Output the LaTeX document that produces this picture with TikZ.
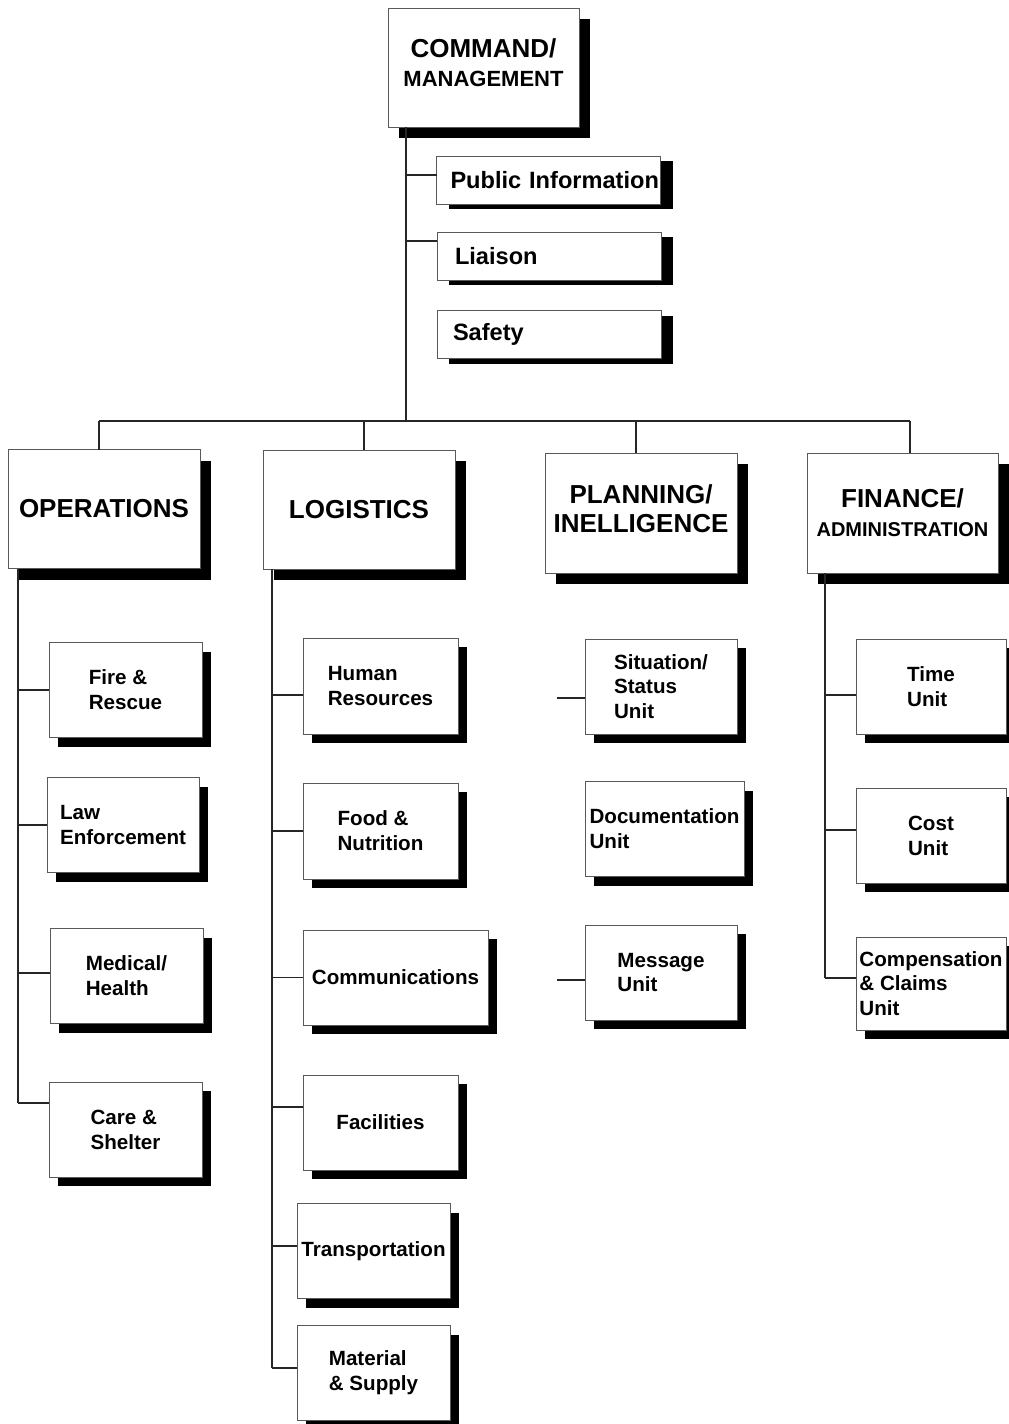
\documentclass[tikz,border=0pt]{standalone}
\usepackage{fontspec}
\setmainfont{Liberation Sans}
\usetikzlibrary{shadows}

\begin{document}
\begin{tikzpicture}[x=0.5pt,y=-0.5pt]
  \tikzstyle{box}=[draw=black!65,line width=0.5pt,fill=white,inner sep=0pt,outer sep=0pt]
  \tikzstyle{head}=[box,align=center,minimum width=96pt,minimum height=59.5pt,font=\bfseries\fontsize{13}{14.5}\selectfont,drop shadow={shadow xshift=5.5pt,shadow yshift=-5.5pt,fill=black,opacity=1}]
  \tikzstyle{staff}=[box,align=left,text width=98pt,inner xsep=7pt,minimum height=24pt,font=\bfseries\fontsize{11.8}{14}\selectfont,drop shadow={shadow xshift=6pt,shadow yshift=-2.5pt,fill=black,opacity=1}]
  \tikzstyle{unit}=[box,align=left,minimum width=76.5pt,minimum height=47.5pt,font=\bfseries\fontsize{10.3}{12.4}\selectfont,drop shadow={shadow xshift=4.5pt,shadow yshift=-4.5pt,fill=black,opacity=1}]
  \tikzstyle{link}=[draw=black!85,line width=0.7pt]
  \useasboundingbox (0,0) rectangle (1008,1424);

  \node[head,minimum width=95.5pt,text depth=5pt] (cmd) at (483.5,67.5) {COMMAND/\\{\fontsize{11}{13}\selectfont MANAGEMENT}};
  \node[staff] (pubinfo) at (548.5,180) {\mbox{Public Information}};
  \node[staff] (liaison) at (549,256) {\hspace{2pt}Liaison};
  \node[staff] (safety) at (549,334.5) {\hspace{1pt}Safety};

  \node[head] (ops) at (104,509) {OPERATIONS};
  \node[head] (log) at (359,509.5) {LOGISTICS};
  \node[head,minimum height=60pt,text depth=4pt] (plan) at (641,513) {PLANNING/\\INELLIGENCE};
  \node[head,minimum height=60pt,minimum width=95.5pt] (fin) at (902.5,513) {FINANCE/\\{\fontsize{10}{12}\selectfont ADMINISTRATION}};

  \node[unit] (fire) at (125.5,690) {Fire \&\\Rescue};
  \node[unit,minimum width=76pt] (law) at (123,825) {Law\\Enforcement};
  \node[unit] (med) at (126.5,976) {Medical/\\Health};
  \node[unit] (care) at (125.5,1129.5) {Care \&\\Shelter};

  \node[unit,minimum width=77.5pt,minimum height=48pt] (hr) at (380.5,686) {Human\\Resources};
  \node[unit,minimum width=77.5pt,minimum height=48pt] (food) at (380.5,831) {Food \&\\Nutrition};
  \node[unit,minimum width=92.5pt] (comm) at (395.5,977.5) {Communications};
  \node[unit,minimum width=77.5pt] (facil) at (380.5,1122.5) {Facilities};
  \node[unit] (transp) at (373.5,1251) {Transportation};
  \node[unit] (mat) at (373.5,1373) {Material\\\& Supply};

  \node[unit,minimum width=76pt] (sit) at (661,686.5) {Situation/\\Status\\Unit};
  \node[unit,minimum width=79.5pt] (doc) at (664.5,829) {Documentation\\Unit};
  \node[unit,minimum width=76pt] (msg) at (661,972.5) {Message\\Unit};

  \node[unit,minimum width=75pt] (time) at (931,686.5) {Time\\Unit};
  \node[unit,minimum width=75pt] (cost) at (931,835.5) {Cost\\Unit};
  \node[unit,minimum width=75pt,minimum height=46.5pt] (comp) at (931,983.5) {Compensation\\\& Claims\\Unit};

  \coordinate (trunk) at (406,421);
  \coordinate (busL) at (99,421);
  \coordinate (busLog) at (364,421);
  \coordinate (busPlan) at (636,421);
  \coordinate (busR) at (910,421);
  \coordinate (opsx) at (18,0);
  \coordinate (logx) at (272,0);
  \coordinate (finx) at (825,0);
  \coordinate (sitstub) at (557,698);
  \coordinate (msgstub) at (557,980);

  \path[link]
  (cmd.south -| trunk) -- (trunk)
  ([yshift=2.5pt]pubinfo.west -| trunk) -- ([yshift=2.5pt]pubinfo.west)
  ([yshift=7.5pt]liaison.west -| trunk) -- ([yshift=7.5pt]liaison.west)
  (busL) -- (busR)
  (busL) -- (busL |- ops.north)
  (busLog) -- (busLog |- log.north)
  (busPlan) -- (busPlan |- plan.north)
  (busR) -- (busR |- fin.north)
  ;
  \path[link]
  (ops.south -| opsx) -- ([yshift=13.25pt]care.west -| opsx)
  (fire.west -| opsx) -- (fire.west)
  (law.west -| opsx) -- (law.west)
  ([yshift=1.5pt]med.west -| opsx) -- ([yshift=1.5pt]med.west)
  ([yshift=13.25pt]care.west -| opsx) -- ([yshift=13.25pt]care.west)
  ;
  \path[link]
  (log.south -| logx) -- ([yshift=2.5pt]mat.west -| logx)
  ([yshift=-4.5pt]hr.west -| logx) -- ([yshift=-4.5pt]hr.west)
  (food.west -| logx) -- (food.west)
  (comm.west -| logx) -- (comm.west)
  ([yshift=7.75pt]facil.west -| logx) -- ([yshift=7.75pt]facil.west)
  ([yshift=2.5pt]transp.west -| logx) -- ([yshift=2.5pt]transp.west)
  ([yshift=2.5pt]mat.west -| logx) -- ([yshift=2.5pt]mat.west)
  ;
  \path[link]
  (sitstub) -- (sitstub -| sit.west)
  (msgstub) -- (msgstub -| msg.west)
  ;
  \path[link]
  (fin.south -| finx) -- ([yshift=2.75pt]comp.west -| finx)
  ([yshift=-4.25pt]time.west -| finx) -- ([yshift=-4.25pt]time.west)
  ([yshift=2.75pt]cost.west -| finx) -- ([yshift=2.75pt]cost.west)
  ([yshift=2.75pt]comp.west -| finx) -- ([yshift=2.75pt]comp.west)
  ;
\end{tikzpicture}
\end{document}
